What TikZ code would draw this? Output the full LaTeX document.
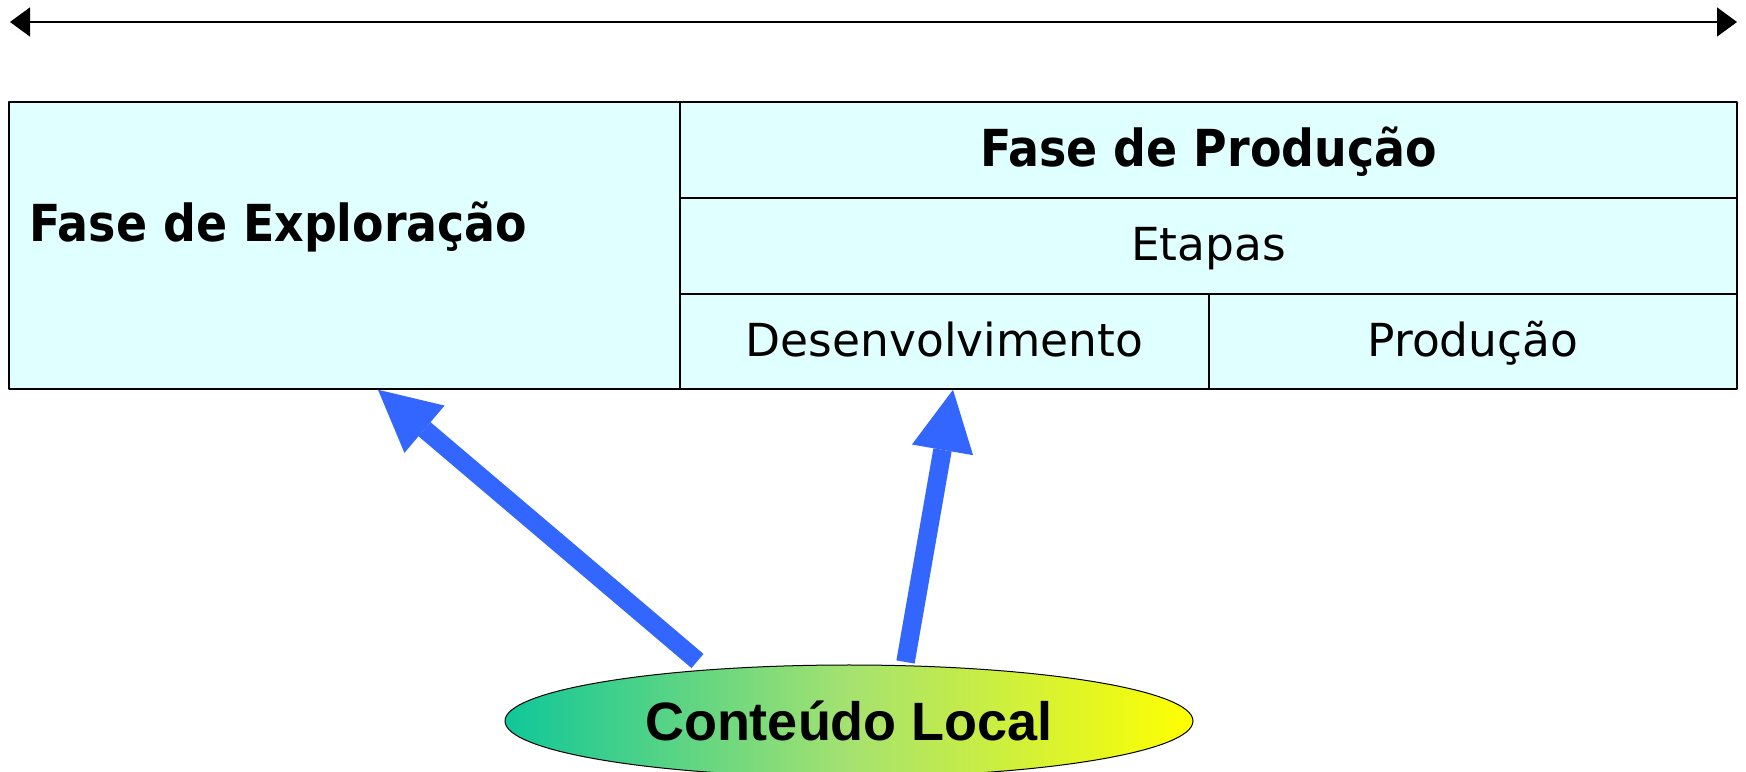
\documentclass[tikz,border=0pt]{standalone}
\usepackage{fontspec}
\setmainfont{DejaVu Sans}
\newfontfamily\condfont{DejaVu Sans Condensed}
\newfontfamily\arialfont{Liberation Sans}
\usetikzlibrary{arrows.meta,shapes.geometric}

\definecolor{cellcol}{rgb}{0.88,1.0,1.0}
\definecolor{flowcol}{rgb}{0.2,0.4,1.0}
\definecolor{tealcol}{rgb}{0.06,0.78,0.6}
\definecolor{midcol}{RGB}{165,226,112}

\tikzset{
  cell/.style={draw, fill=cellcol, line width=1.5bp, inner sep=0pt,
    text height=33bp, text depth=3bp,
    font=\fontsize{45.5bp}{50bp}\selectfont},
  headcell/.style={cell, text height=37bp, text depth=3bp,
    font=\condfont\bfseries\fontsize{51bp}{56bp}\selectfont},
  bluearrow/.style={draw=flowcol, line width=18.5bp,
    -{Triangle[length=61bp,width=62bp,line width=0pt]}},
}

\begin{document}
\begin{tikzpicture}[>=latex,line join=bevel]
  \pgfsetlinewidth{1bp}
  \useasboundingbox (0bp,0bp) rectangle (1746bp,772bp);
%%
  % Node: Exploracao
  \node[cell, minimum width=671bp, minimum height=287bp] (expl) at (344.5bp,526.5bp) {};
  \node[anchor=base west, inner sep=0pt, font=\condfont\bfseries\fontsize{51bp}{56bp}\selectfont] (expltext) at (29bp,530bp) {Fase de Exploração};
  % Node: Fase de Producao
  \node[headcell, minimum width=1057bp, minimum height=96bp] (fprod) at (1208.5bp,622bp) {Fase de Produção};
  % Node: Etapas
  \node[cell, minimum width=1057bp, minimum height=96bp] (etapas) at (1208.5bp,526bp) {Etapas};
  % Node: Desenvolvimento
  \node[cell, minimum width=529bp, minimum height=95bp] (desenv) at (944.5bp,430.5bp) {Desenvolvimento};
  % Node: Producao
  \node[cell, minimum width=528bp, minimum height=95bp] (prod) at (1473bp,430.5bp) {Produção};
  % Node: Conteudo Local
  \node[ellipse, draw, line width=1bp, left color=tealcol, right color=yellow, middle color=midcol,
    minimum width=688bp, minimum height=112bp, inner sep=0pt,
    font=\arialfont\bfseries\fontsize{54bp}{58bp}\selectfont] (local) at (849bp,51bp) {Conteúdo Local};
%
  % Edge: time axis
  \coordinate (tleft) at (10bp,750bp);
  \coordinate (tright) at (1737bp,750bp);
  \draw [{Triangle[length=20bp,width=29bp]}-{Triangle[length=20bp,width=29bp]}, line width=1.5bp] (tleft) -- (tright);
  % Edge: Conteudo Local -> Exploracao
  \draw [bluearrow] ([shift={(-151.5bp,60bp)}]local.center) -- ([xshift=33.5bp]expl.south);
  % Edge: Conteudo Local -> Desenvolvimento
  \draw [bluearrow] ([shift={(56.5bp,59bp)}]local.center) -- ([xshift=8.5bp]desenv.south);
%
\end{tikzpicture}
\end{document}
